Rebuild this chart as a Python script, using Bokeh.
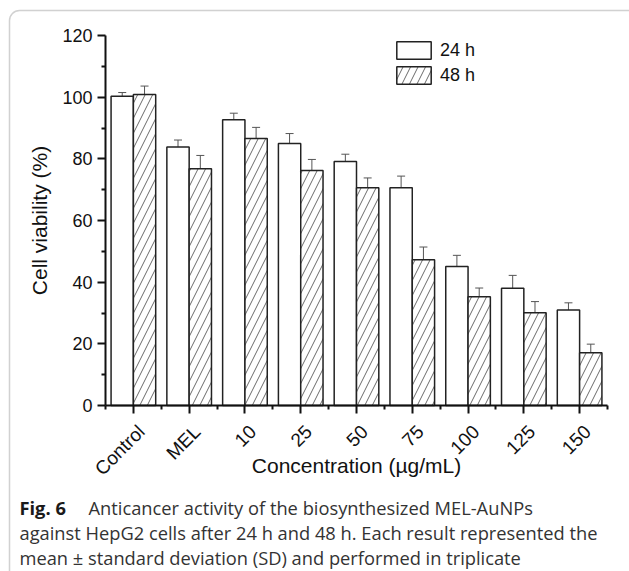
import math
from bokeh.plotting import figure
from bokeh.models import (ColumnDataSource, FixedTicker, Range1d, Whisker, TeeHead,
                          Legend, LegendItem, Label, BoxAnnotation)
from bokeh.core.properties import value
from bokeh.embed import file_html
from bokeh.resources import INLINE

# ---- data ----
categories = ["Control", "MEL", "10", "25", "50", "75", "100", "125", "150"]
v24 = [100.3, 83.8, 92.7, 85.0, 79.1, 70.6, 45.1, 38.0, 31.0]
sd24 = [1.2, 2.3, 2.1, 3.2, 2.4, 3.8, 3.6, 4.2, 2.3]
v48 = [100.9, 76.8, 86.6, 76.2, 70.6, 47.3, 35.3, 30.1, 17.1]
sd48 = [2.7, 4.3, 3.6, 3.6, 3.2, 4.1, 2.8, 3.6, 2.8]
series_names = ["24 h", "48 h"]
y_ticks = [0, 20, 40, 60, 80, 100, 120]
y_minor = [10, 30, 50, 70, 90, 110]

W, H = 629, 571
# plot-area placement in pixels (layout, not data)
PL, PR, PT, PB = 105, 607, 35, 405
XMIN, XMAX = 0.5, len(categories) + 0.5
YMIN, YMAX = 0, 120
kx = (PR - PL) / (XMAX - XMIN)
ky = (PB - PT) / (YMAX - YMIN)
x_range = Range1d(XMIN - PL / kx, XMAX + (W - PR) / kx)
y_range = Range1d(YMIN - (H - PB) / ky, YMAX + PT / ky)

FONT = "Liberation Sans"
pos = [i + 1 for i in range(len(categories))]
bw = 0.4

src24 = ColumnDataSource(dict(
    x=[p - bw / 2 for p in pos], top=v24,
    lo=[v - s for v, s in zip(v24, sd24)], hi=[v + s for v, s in zip(v24, sd24)]))
src48 = ColumnDataSource(dict(
    x=[p + bw / 2 for p in pos], top=v48,
    lo=[v - s for v, s in zip(v48, sd48)], hi=[v + s for v, s in zip(v48, sd48)]))
src_cat = ColumnDataSource(dict(x=pos, y=[YMIN] * len(pos), text=categories))

p = figure(width=W, height=H, min_border=0,
           x_range=x_range, y_range=y_range,
           output_backend="svg", toolbar_location=None)
p.outline_line_color = None
p.grid.visible = False
p.background_fill_color = "white"
p.border_fill_color = "white"

r24 = p.vbar(x="x", top="top", width=bw, bottom=0, source=src24,
             fill_color="white", line_color="#222222", line_width=1.5)
r48 = p.vbar(x="x", top="top", width=bw, bottom=0, source=src48,
             fill_color="white", line_color="#222222", line_width=1.5,
             hatch_pattern="/", hatch_scale=15, hatch_weight=0.8, hatch_color="#444444")

for src in (src24, src48):
    w = Whisker(base="x", lower="lo", upper="hi", source=src,
                line_color="#555555", line_width=1,
                upper_head=TeeHead(size=8, line_color="#555555", line_width=1),
                lower_head=TeeHead(size=8, line_color="#555555", line_width=1))
    p.add_layout(w)

# category labels (rotated 45 degrees, placed at the category positions)
p.text(x="x", y="y", text="text", source=src_cat, angle=math.pi / 4,
       x_offset=8, y_offset=23, text_align="right", text_baseline="middle",
       text_font=value(FONT), text_font_size="19px", text_color="#111111")

# axes
xa = p.xaxis[0]
xa.ticker = FixedTicker(ticks=pos, minor_ticks=[x + 0.5 for x in range(len(categories) + 1)])
xa.major_label_overrides = {pp: "" for pp in pos}
xa.axis_label = "Concentration (\u00b5g/mL)"
xa.fixed_location = YMIN
xa.bounds = (XMIN, XMAX)

ya = p.yaxis[0]
ya.ticker = FixedTicker(ticks=y_ticks, minor_ticks=y_minor)
ya.axis_label = "Cell viability (%)"
ya.fixed_location = XMIN
ya.bounds = (YMIN, YMAX)

for ax in (xa, ya):
    ax.axis_line_width = 2
    ax.axis_line_color = "#111111"
    ax.major_tick_line_width = 2
    ax.major_tick_line_color = "#111111"
    ax.minor_tick_line_width = 2
    ax.minor_tick_line_color = "#111111"
    ax.major_tick_in = 0
    ax.major_tick_out = 8
    ax.minor_tick_in = 0
    ax.minor_tick_out = 4
    ax.major_label_text_font = FONT
    ax.major_label_text_font_size = "18px"
    ax.major_label_text_color = "#111111"
    ax.axis_label_text_font = FONT
    ax.axis_label_text_font_size = "21px"
    ax.axis_label_text_font_style = "normal"
    ax.axis_label_text_color = "#111111"
xa.major_label_standoff = 0
xa.axis_label_standoff = 40
ya.major_label_standoff = 5
ya.axis_label_standoff = 8

legend = Legend(items=[LegendItem(label=series_names[0], renderers=[r24]),
                       LegendItem(label=series_names[1], renderers=[r48])],
                location=(392, H - 86), glyph_width=43, glyph_height=22, spacing=3,
                label_standoff=5, label_height=22, padding=0, margin=0,
                border_line_color=None, background_fill_alpha=0,
                label_text_font=FONT, label_text_font_size="18px", label_text_color="#111111")
p.add_layout(legend)

# figure frame (rounded border, cut by the right and bottom edges)
frame = BoxAnnotation(left=9, right=W + 20, top=H - 10, bottom=-20,
                      left_units="screen", right_units="screen", top_units="screen", bottom_units="screen",
                      fill_alpha=0, line_color="#666666", line_width=1.5, border_radius=10)
p.add_layout(frame)

# caption
CAP = "Open Sans"
cap = [
    (19, H - 507, "Fig. 6", "bold", "#1a1a1a"),
    (88, H - 507, "Anticancer activity of the biosynthesized MEL-AuNPs", "normal", "#333333"),
    (19, H - 532, "against HepG2 cells after 24 h and 48 h. Each result represented the", "normal", "#333333"),
    (19, H - 557, "mean \u00b1 standard deviation (SD) and performed in triplicate", "normal", "#333333"),
]
for x, y, t, st, col in cap:
    p.add_layout(Label(x=x, y=y, x_units="screen", y_units="screen", text=t,
                       text_font=CAP, text_font_style=st, text_font_size="18.3px",
                       text_color=col, text_baseline="alphabetic"))

open("out.html", "w").write(file_html(p, INLINE))
